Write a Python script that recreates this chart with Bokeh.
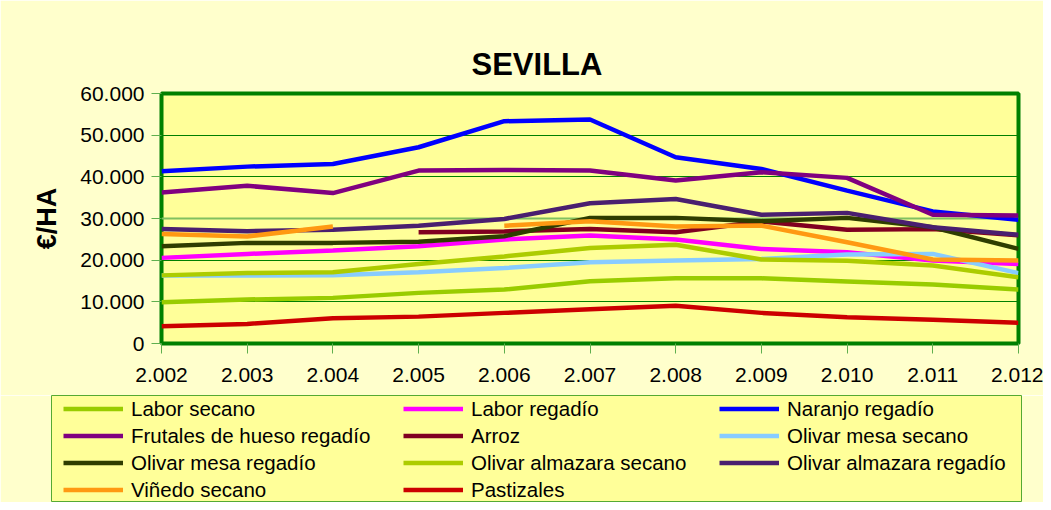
import math
from bokeh.plotting import figure
from bokeh.layouts import column
from bokeh.models import Range1d, FixedTicker, Legend, LegendItem, Span
from bokeh.embed import file_html
from bokeh.resources import INLINE

NaN = float("nan")

years = [2002, 2003, 2004, 2005, 2006, 2007, 2008, 2009, 2010, 2011, 2012]
x_tick_labels = ["2.002", "2.003", "2.004", "2.005", "2.006", "2.007",
                 "2.008", "2.009", "2.010", "2.011", "2.012"]
y_ticks = [0, 10000, 20000, 30000, 40000, 50000, 60000]
y_tick_labels = ["0", "10.000", "20.000", "30.000", "40.000", "50.000", "60.000"]

labor_secano = [9900, 10550, 10950, 12150, 12950, 14950, 15650, 15650, 14900, 14150, 12950]
labor_regadio = [20550, 21500, 22300, 23350, 24950, 25900, 24950, 22700, 21900, 19900, 19100]
naranjo_regadio = [41350, 42450, 43100, 47100, 53350, 53750, 44700, 41900, 36700, 31700, 29700]
frutales_hueso = [36250, 37850, 36100, 41500, 41650, 41500, 39100, 41100, 39750, 30900, 30700]
arroz = [NaN, NaN, NaN, 26700, 26900, 27500, 26700, 29300, 27300, 27450, 25950]
olivar_mesa_secano = [16300, 16300, 16400, 17100, 18100, 19500, 19900, 20300, 21350, 21500, 16900]
olivar_mesa_regadio = [23350, 24150, 24150, 24400, 25750, 30150, 30150, 29350, 30150, 27900, 22700]
olivar_almazara_secano = [16350, 16900, 17100, 19100, 20900, 22900, 23700, 20150, 19850, 18700, 15900]
olivar_almazara_regadio = [27500, 26950, 27300, 28250, 29900, 33650, 34700, 30900, 31350, 27900, 26100]
vinedo_secano = [26300, 25700, 28100, NaN, 28250, 29350, 28100, 28300, 24300, 20150, 19900]
pastizales = [4150, 4700, 6050, 6450, 7350, 8200, 9050, 7350, 6300, 5700, 4950]

series = [
    ("Labor secano", labor_secano, "#99CC00"),
    ("Labor regadío", labor_regadio, "#FF00FF"),
    ("Naranjo regadío", naranjo_regadio, "#0000FF"),
    ("Frutales de hueso regadío", frutales_hueso, "#800080"),
    ("Arroz", arroz, "#800020"),
    ("Olivar mesa secano", olivar_mesa_secano, "#88CCFF"),
    ("Olivar mesa regadío", olivar_mesa_regadio, "#2F3D00"),
    ("Olivar almazara secano", olivar_almazara_secano, "#ADCC00"),
    ("Olivar almazara regadío", olivar_almazara_regadio, "#4A1F6F"),
    ("Viñedo secano", vinedo_secano, "#FF9912"),
    ("Pastizales", pastizales, "#CC0000"),
]

FONT = "Liberation Sans"
CREAM = "#FFFFCC"

p = figure(width=1043, height=395,
           x_range=Range1d(2002, 2012), y_range=Range1d(0, 60000),
           min_border_left=161, min_border_right=25,
           min_border_top=93, min_border_bottom=52,
           background_fill_color="#FFFF99", border_fill_color=CREAM,
           outline_line_color="#008000", outline_line_width=4,
           toolbar_location=None, output_backend="svg")

p.title.text = "SEVILLA"
p.title.text_font = FONT
p.title.text_font_style = "bold"
p.title.text_font_size = "31px"
p.title.text_color = "black"
p.title.align = "left"
p.title.offset = 310
p.title.standoff = 24

p.xgrid.visible = False
p.ygrid.grid_line_color = "#008000"
p.ygrid.grid_line_width = 1

p.add_layout(Span(location=30000, dimension="width", line_color="#80C060",
                  line_width=2, level="underlay"))

for ax in (p.xaxis[0], p.yaxis[0]):
    ax.axis_line_color = None
    ax.major_tick_in = 0
    ax.major_tick_out = 10
    ax.major_tick_line_color = "#5FAF4F"
    ax.minor_tick_line_color = None
    ax.major_label_text_font = FONT
    ax.major_label_text_font_size = "21px"
    ax.major_label_text_color = "black"
    ax.major_label_standoff = 7

p.xaxis[0].major_label_standoff = 14
p.xaxis[0].ticker = FixedTicker(ticks=years)
p.xaxis[0].major_label_overrides = {y: l for y, l in zip(years, x_tick_labels)}
p.yaxis[0].ticker = FixedTicker(ticks=y_ticks)
p.yaxis[0].major_label_overrides = {t: l for t, l in zip(y_ticks, y_tick_labels)}
p.yaxis[0].axis_label = "€/HA"
p.yaxis[0].axis_label_text_font = FONT
p.yaxis[0].axis_label_text_font_style = "bold"
p.yaxis[0].axis_label_text_font_size = "27px"
p.yaxis[0].axis_label_text_color = "black"
p.yaxis[0].axis_label_standoff = 15

# Legend host figure: its frame is the legend box; its own copies of the
# series lie outside its y range, so only their legend glyphs are seen.
FRAME_H = 107
q = figure(width=1043, height=FRAME_H,
           x_range=Range1d(2002, 2012), y_range=Range1d(-2, -1),
           min_border_left=51, min_border_right=22,
           min_border_top=0, min_border_bottom=0,
           background_fill_color="#FFFF99", border_fill_color=CREAM,
           outline_line_color="#55AA33", outline_line_width=1,
           toolbar_location=None, output_backend="svg")
q.frame_align = False
q.axis.visible = False
q.grid.visible = False

legend_items = {}
for name, vals, color in series:
    p.line(years, vals, line_color=color, line_width=4.5)
    r = q.line(years, vals, line_color=color, line_width=4.5)
    legend_items[name] = LegendItem(label=name, renderers=[r])

names = [s[0] for s in series]
col_names = [names[0::3], names[1::3], names[2::3]]
col_x = [12, 352, 668]
ROW_H = 27

for names_c, x0 in zip(col_names, col_x):
    h = ROW_H * len(names_c)
    lg = Legend(items=[legend_items[n] for n in names_c],
                location=(x0, FRAME_H - h),
                background_fill_alpha=0, border_line_color=None,
                label_text_font=FONT, label_text_font_size="20.5px",
                label_text_color="black",
                glyph_width=60, glyph_height=ROW_H, label_height=ROW_H,
                label_standoff=8, spacing=0, padding=0, margin=0)
    q.add_layout(lg, "center")

layout = column(p, q, spacing=0)
open("out.html", "w").write(file_html(layout, INLINE))
